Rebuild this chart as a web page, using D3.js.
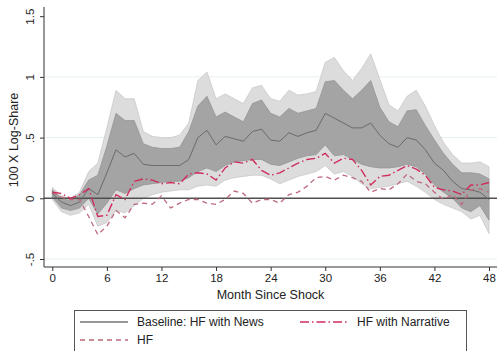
<!DOCTYPE html>
<html>
<head>
<meta charset="utf-8">
<script src="https://cdn.jsdelivr.net/npm/d3@7"></script>
<style>
  body { margin: 0; background: #fff; }
  text { font-family: "Liberation Sans", Arial, sans-serif; fill: #222; }
</style>
</head>
<body>
<div id="chart"></div>
<script>
// months since shock
var months = d3.range(0, 49);

// baseline: HF with News (point estimate and bands)
var baseline = [0.04, -0.03, -0.06, -0.03, 0.08, 0.03, 0.21, 0.40, 0.34, 0.37,
  0.28, 0.27, 0.27, 0.27, 0.27, 0.32, 0.50, 0.56, 0.44, 0.51,
  0.49, 0.47, 0.55, 0.57, 0.48, 0.47, 0.54, 0.51, 0.54, 0.56,
  0.70, 0.66, 0.62, 0.58, 0.58, 0.62, 0.52, 0.45, 0.42, 0.50,
  0.48, 0.40, 0.29, 0.23, 0.14, 0.08, 0.07, 0.05, -0.01];
var innerHi = [0.07, 0.00, -0.02, 0.03, 0.15, 0.19, 0.43, 0.70, 0.64, 0.64,
  0.45, 0.42, 0.41, 0.41, 0.42, 0.55, 0.76, 0.84, 0.67, 0.71,
  0.67, 0.63, 0.78, 0.81, 0.70, 0.67, 0.74, 0.70, 0.72, 0.74,
  0.96, 0.97, 0.89, 0.82, 0.89, 0.97, 0.75, 0.63, 0.59, 0.72,
  0.73, 0.60, 0.48, 0.37, 0.28, 0.21, 0.21, 0.20, 0.16];
var innerLo = [0.01, -0.08, -0.10, -0.08, 0.00, -0.13, -0.04, 0.07, 0.04, 0.08,
  0.11, 0.12, 0.13, 0.14, 0.14, 0.17, 0.22, 0.25, 0.22, 0.27,
  0.30, 0.31, 0.32, 0.32, 0.28, 0.27, 0.30, 0.33, 0.35, 0.36,
  0.44, 0.35, 0.36, 0.32, 0.28, 0.26, 0.25, 0.25, 0.26, 0.28,
  0.26, 0.20, 0.11, 0.05, 0.00, -0.08, -0.11, -0.06, -0.18];
var outerHi = [0.09, 0.02, 0.00, 0.05, 0.22, 0.29, 0.58, 0.89, 0.82, 0.82,
  0.55, 0.51, 0.50, 0.50, 0.52, 0.62, 0.97, 1.04, 0.82, 0.86,
  0.82, 0.78, 0.91, 0.93, 0.82, 0.80, 0.89, 0.85, 0.86, 0.88,
  1.12, 1.16, 1.05, 0.97, 1.07, 1.19, 0.98, 0.77, 0.72, 0.84,
  0.89, 0.76, 0.60, 0.46, 0.36, 0.29, 0.29, 0.30, 0.26];
var outerLo = [-0.01, -0.11, -0.14, -0.12, -0.05, -0.23, -0.20, -0.10, -0.12, -0.06,
  0.00, 0.03, 0.05, 0.06, 0.07, 0.07, 0.10, 0.11, 0.10, 0.15,
  0.17, 0.18, 0.19, 0.19, 0.16, 0.12, 0.15, 0.18, 0.20, 0.22,
  0.27, 0.20, 0.22, 0.18, 0.12, 0.08, 0.09, 0.10, 0.12, 0.14,
  0.10, 0.05, -0.01, -0.05, -0.08, -0.11, -0.17, -0.14, -0.29];

// HF with Narrative
var narrative = [0.05, 0.04, 0.00, 0.03, 0.08, -0.15, -0.14, 0.03, -0.01, 0.14,
  0.16, 0.15, 0.12, 0.13, 0.12, 0.20, 0.21, 0.20, 0.15, 0.25,
  0.30, 0.29, 0.32, 0.23, 0.19, 0.21, 0.25, 0.29, 0.32, 0.33,
  0.37, 0.29, 0.33, 0.32, 0.23, 0.11, 0.18, 0.19, 0.23, 0.27,
  0.24, 0.19, 0.09, 0.07, 0.06, 0.03, 0.11, 0.11, 0.13];

// HF
var hf = [0.05, 0.01, -0.01, -0.01, -0.15, -0.30, -0.23, -0.10, -0.16, -0.05,
  -0.04, -0.05, 0.02, -0.08, -0.04, -0.01, -0.01, -0.04, -0.05, -0.01,
  0.06, 0.04, -0.04, -0.01, -0.01, -0.04, 0.03, 0.05, 0.10, 0.17,
  0.18, 0.15, 0.19, 0.17, 0.14, 0.05, 0.08, 0.07, 0.12, 0.20,
  0.14, 0.12, 0.05, -0.01, 0.03, -0.05, 0.07, 0.08, 0.05];

var xTicks = [0, 6, 12, 18, 24, 30, 36, 42, 48];
var yTicks = [-0.5, 0, 0.5, 1, 1.5];
var yTickLabels = ["-.5", "0", ".5", "1", "1.5"];

var width = 499, height = 351;

var svg = d3.select("#chart").append("svg")
  .attr("width", width)
  .attr("height", height);

var x = d3.scaleLinear().domain([0, 48]).range([52.3, 489]);
var y = d3.scaleLinear().domain([-0.5, 1.5]).range([259, 16.2]);

var axisLeft = 44, axisBottom = 267, plotRight = 497;

// grid lines
svg.append("g").selectAll("line")
  .data([-0.5, 0.5, 1])
  .enter().append("line")
  .attr("x1", axisLeft + 1).attr("x2", plotRight)
  .attr("y1", function(d) { return y(d); })
  .attr("y2", function(d) { return y(d); })
  .attr("stroke", "#e6eff0")
  .attr("stroke-width", 1);

function band(lo, hi) {
  return d3.area()
    .x(function(d, i) { return x(months[i]); })
    .y0(function(d, i) { return y(lo[i]); })
    .y1(function(d, i) { return y(hi[i]); });
}

svg.append("path")
  .attr("d", band(outerLo, outerHi)(months))
  .attr("fill", "#dcdcdc")
  .attr("stroke", "#c9c9c9")
  .attr("stroke-width", 0.8);

svg.append("path")
  .attr("d", band(innerLo, innerHi)(months))
  .attr("fill", "#a4a4a4")
  .attr("stroke", "#949494")
  .attr("stroke-width", 0.8);

// zero line
svg.append("line")
  .attr("x1", axisLeft).attr("x2", plotRight)
  .attr("y1", y(0)).attr("y2", y(0))
  .attr("stroke", "#505050")
  .attr("stroke-width", 1.5);

function line(vals) {
  return d3.line()
    .x(function(d, i) { return x(months[i]); })
    .y(function(d, i) { return y(vals[i]); })(months);
}

svg.append("path")
  .attr("d", line(baseline))
  .attr("fill", "none")
  .attr("stroke", "#6a6a6a")
  .attr("stroke-width", 1);

svg.append("path")
  .attr("d", line(hf))
  .attr("fill", "none")
  .attr("stroke", "#bd6a7c")
  .attr("stroke-width", 1.3)
  .attr("stroke-dasharray", "5,4");

svg.append("path")
  .attr("d", line(narrative))
  .attr("fill", "none")
  .attr("stroke", "#cf2e5c")
  .attr("stroke-width", 1.4)
  .attr("stroke-dasharray", "9,3,1.5,3");

// axes
var yAxis = svg.append("g")
  .attr("transform", "translate(" + axisLeft + ",0)")
  .call(d3.axisLeft(y).tickValues(yTicks).tickSize(4)
    .tickFormat(function(d, i) { return yTickLabels[i]; }));
yAxis.select(".domain").remove();
yAxis.append("line")
  .attr("x1", 0).attr("x2", 0).attr("y1", 7).attr("y2", axisBottom)
  .attr("stroke", "#333");
yAxis.selectAll(".tick line").attr("stroke", "#333");
yAxis.selectAll(".tick text")
  .attr("x", null).attr("dy", null)
  .attr("transform", "translate(-10,0) rotate(-90)")
  .attr("text-anchor", "middle")
  .style("font-size", "11.5px")
  .style("font-family", "Liberation Sans, Arial, sans-serif")
  .attr("fill", "#222");

var xAxis = svg.append("g")
  .attr("transform", "translate(0," + axisBottom + ")")
  .call(d3.axisBottom(x).tickValues(xTicks).tickSize(4).tickFormat(d3.format("d")));
xAxis.select(".domain").remove();
xAxis.append("line")
  .attr("x1", axisLeft).attr("x2", plotRight).attr("y1", 0).attr("y2", 0)
  .attr("stroke", "#333");
xAxis.selectAll(".tick line").attr("stroke", "#333");
xAxis.selectAll(".tick text")
  .attr("y", 7)
  .style("font-size", "11.5px")
  .style("font-family", "Liberation Sans, Arial, sans-serif")
  .attr("fill", "#222");

// axis titles
svg.append("text")
  .attr("transform", "translate(18,140) rotate(-90)")
  .attr("text-anchor", "middle")
  .style("font-size", "12.5px")
  .text("100 X Log-Share");

svg.append("text")
  .attr("x", 270.5).attr("y", 299)
  .attr("text-anchor", "middle")
  .style("font-size", "12.5px")
  .text("Month Since Shock");

// legend
var legend = svg.append("g");
legend.append("rect")
  .attr("x", 74.5).attr("y", 310.5)
  .attr("width", 392).attr("height", 50)
  .attr("fill", "#fff")
  .attr("stroke", "#555");

var legendItems = [
  { label: "Baseline: HF with News", color: "#333", dash: null, w: 1.2, lx: 80, ly: 322 },
  { label: "HF with Narrative", color: "#cf2e5c", dash: "9,3,1.5,3", w: 1.4, lx: 300, ly: 322 },
  { label: "HF", color: "#bd6a7c", dash: "5,4", w: 1.3, lx: 80, ly: 340 }
];

var li = legend.selectAll(".legend-item")
  .data(legendItems)
  .enter().append("g")
  .attr("class", "legend-item");

li.append("line")
  .attr("x1", function(d) { return d.lx; })
  .attr("x2", function(d) { return d.lx + 48; })
  .attr("y1", function(d) { return d.ly; })
  .attr("y2", function(d) { return d.ly; })
  .attr("stroke", function(d) { return d.color; })
  .attr("stroke-width", function(d) { return d.w; })
  .attr("stroke-dasharray", function(d) { return d.dash; });

li.append("text")
  .attr("x", function(d) { return d.lx + 57; })
  .attr("y", function(d) { return d.ly + 4; })
  .style("font-size", "12px")
  .text(function(d) { return d.label; });
</script>
</body>
</html>
